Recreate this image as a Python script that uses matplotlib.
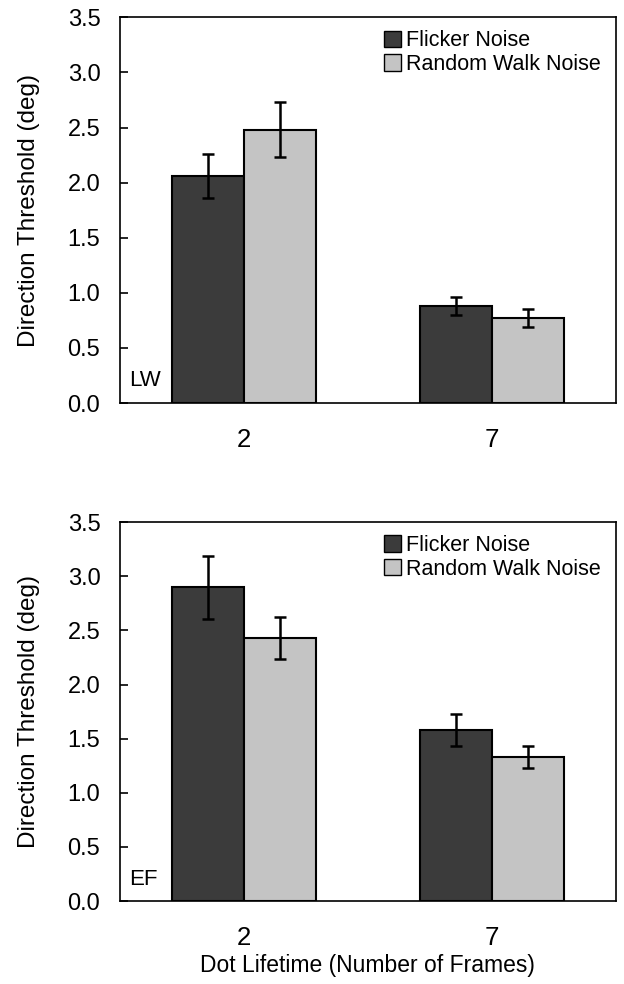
import numpy as np
import matplotlib.pyplot as plt
from matplotlib.patches import Patch

plt.rcParams['font.family'] = ['Liberation Sans', 'DejaVu Sans']

lifetimes = ['2', '7']
series = ['Flicker Noise', 'Random Walk Noise']
colors = ['#3b3b3b', '#c4c4c4']

# observer LW
lw_flicker = [2.06, 0.88]
lw_flicker_err = [0.20, 0.08]
lw_random = [2.48, 0.77]
lw_random_err = [0.25, 0.08]

# observer EF
ef_flicker = [2.90, 1.58]
ef_flicker_err = [0.29, 0.15]
ef_random = [2.43, 1.33]
ef_random_err = [0.19, 0.10]

panels = [
    ('LW', lw_flicker, lw_flicker_err, lw_random, lw_random_err),
    ('EF', ef_flicker, ef_flicker_err, ef_random, ef_random_err),
]

fig = plt.figure(figsize=(6.24, 9.84), dpi=100)
ax1 = fig.add_axes([0.192, 0.5904, 0.795, 0.392])
ax2 = fig.add_axes([0.192, 0.0843, 0.795, 0.385])

x = np.arange(len(lifetimes))
w = 0.29

for ax, (name, fl, fl_err, rw, rw_err) in zip([ax1, ax2], panels):
    ax.bar(x - w / 2, fl, w, color=colors[0], edgecolor='black', linewidth=1.5)
    ax.bar(x + w / 2, rw, w, color=colors[1], edgecolor='black', linewidth=1.5)
    ax.errorbar(x - w / 2, fl, yerr=fl_err, fmt='none', ecolor='black',
                elinewidth=1.8, capsize=4, capthick=1.8)
    ax.errorbar(x + w / 2, rw, yerr=rw_err, fmt='none', ecolor='black',
                elinewidth=1.8, capsize=4, capthick=1.8)
    ax.set_xlim(-0.5, 1.5)
    ax.set_ylim(0, 3.5)
    ax.set_yticks(np.arange(0, 3.51, 0.5))
    ax.set_yticklabels(['%.1f' % v for v in np.arange(0, 3.51, 0.5)])
    ax.set_xticks(x)
    ax.set_xticklabels(lifetimes)
    ax.tick_params(axis='y', direction='in', length=6, width=1.2,
                   labelsize=17, pad=14)
    ax.tick_params(axis='x', length=0, labelsize=18.5, pad=18)
    for s in ax.spines.values():
        s.set_linewidth(1.2)
    ax.set_ylabel('Direction Threshold (deg)', fontsize=17.5, labelpad=20)
    ax.text(0.018, 0.03, name, transform=ax.transAxes, fontsize=16,
            ha='left', va='bottom')
    handles = [Patch(facecolor=colors[0], edgecolor='black'),
               Patch(facecolor=colors[1], edgecolor='black')]
    ax.legend(handles, series, loc='upper right', frameon=False, fontsize=15.5,
              handlelength=0.8, handleheight=0.8, handletextpad=0.2,
              labelspacing=0.12, borderaxespad=0.2,
              bbox_to_anchor=(0.995, 1.0))

ax2.set_xlabel('Dot Lifetime (Number of Frames)', fontsize=16.5, labelpad=3)

plt.savefig('out.png', dpi=100)
